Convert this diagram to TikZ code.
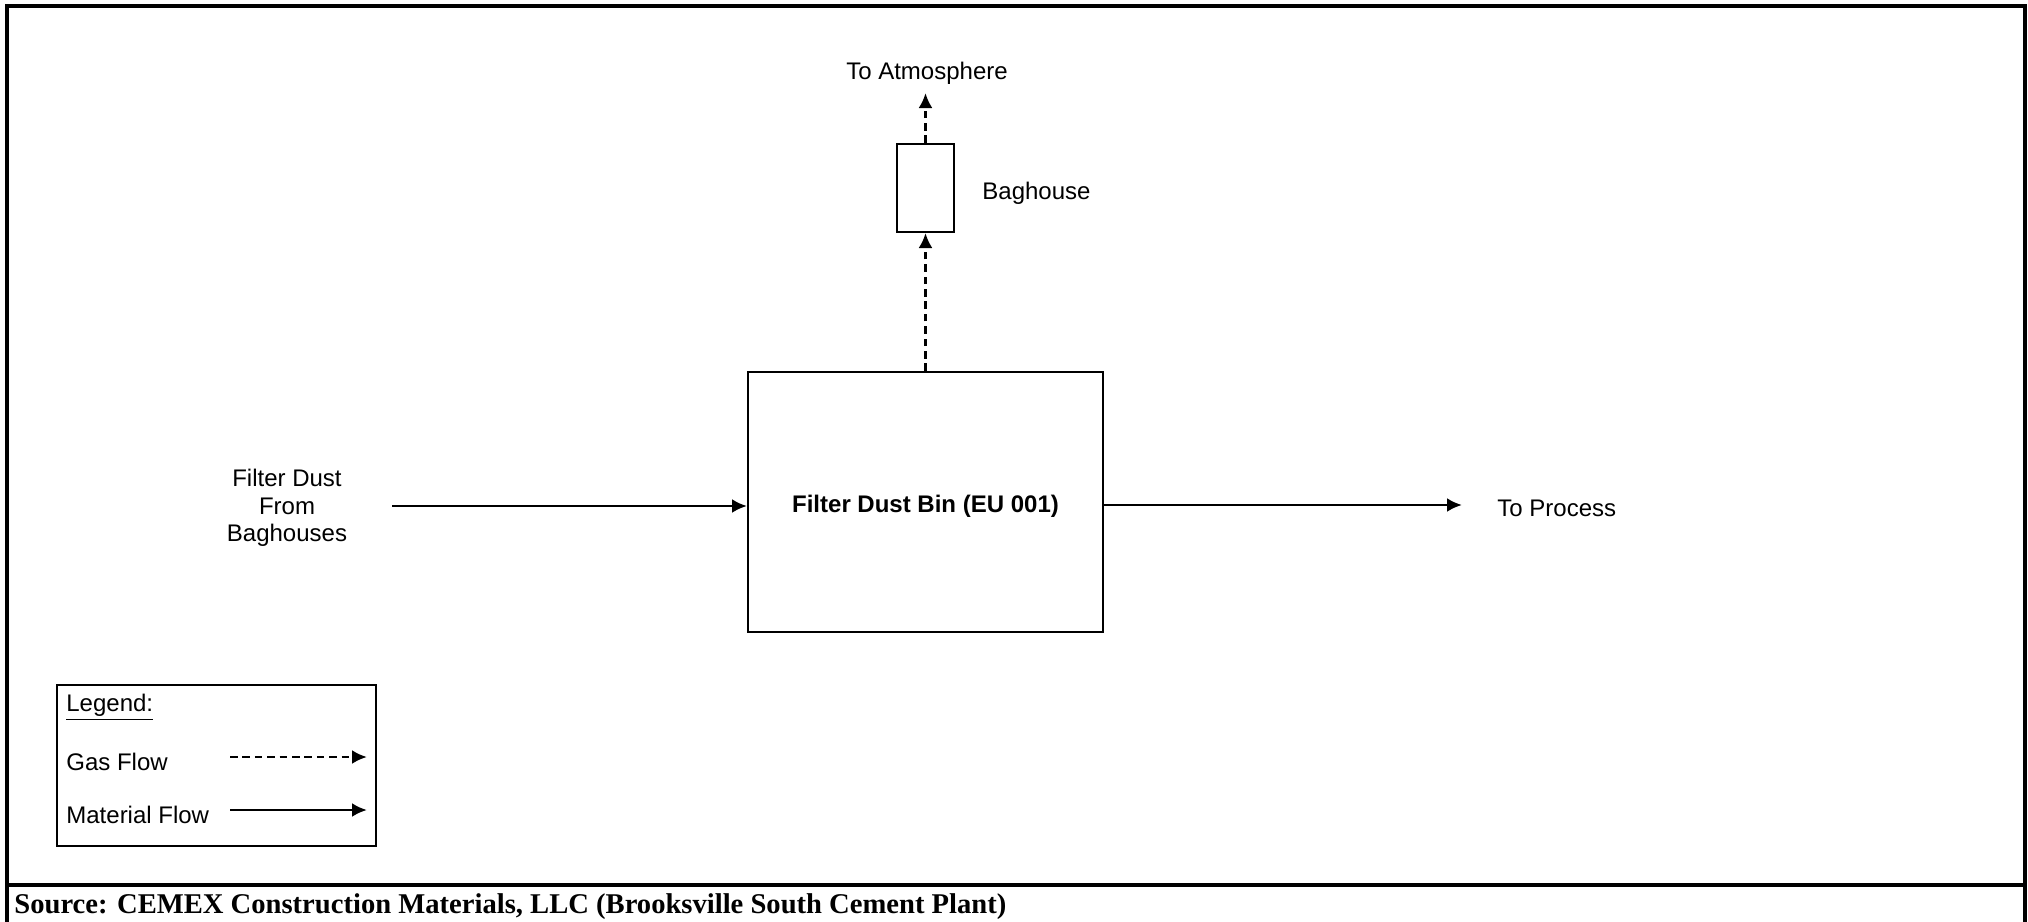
\documentclass[tikz,border=0pt]{standalone}
\usepackage{fontspec}
\setmainfont{Liberation Sans}
\newfontfamily\srcfont{Liberation Serif}
\usetikzlibrary{arrows.meta}
\begin{document}
\begin{tikzpicture}[x=0.5pt,y=-0.5pt,
  lbl/.style={font=\fontsize{12}{14}\selectfont, inner sep=0pt},
  unit/.style={draw, line width=1pt, fill=white},
  tip/.style={-{Latex[length=7.5pt,width=7pt]}},
  gas/.style={tip, line width=1.4pt, dash pattern=on 3.8pt off 2.4pt},
  mat/.style={tip, line width=1.4pt}]
\useasboundingbox (0,0) rectangle (2028,921);
\fill[white] (0,0) rectangle (2028,921);
\begin{scope}
\clip (0,0) rectangle (2028,921);
% outer frame and source strip
\draw[line width=2.2pt] (7,930) -- (7,6) -- (2025,6) -- (2025,930);
\draw[line width=2pt] (7,885) -- (2025,885);
\end{scope}
\node[anchor=base west, inner sep=0pt, font=\srcfont\bfseries\fontsize{14.3}{16}\selectfont] (src) at (14,913)
  {Source: CEMEX Construction Materials, LLC (Brooksville South Cement Plant)};

% process units
\node[unit, minimum width=177.5pt, minimum height=130pt] (bin) at (925.5,502) {};
\node[lbl, font=\bfseries\fontsize{12}{14}\selectfont] (binlbl) at (925.5,506) {Filter Dust Bin (EU 001)};
\node[unit, minimum width=28.5pt, minimum height=44pt] (bh) at (925.5,188) {};
\node[lbl, anchor=west] (bhlbl) at (982,193) {Baghouse};
\node[lbl] (atm) at (927,73) {To Atmosphere};
\coordinate (atmtip) at (925.5,93);

\node[lbl, align=center, font=\fontsize{12}{13.75}\selectfont] (filter) at (287,508) {Filter Dust\\From\\Baghouses};
\coordinate (fin) at (392,506);
\node[lbl, anchor=west] (proc) at (1497,508) {To Process};
\coordinate (pin) at (1103,505);
\coordinate (pout) at (1462,505);

% flows
\draw[gas] (bin.north) -- (bh.south);
\draw[gas] (bh.north) -- (atmtip);
\draw[mat] (fin) -- (fin -| bin.west);
\draw[mat] (pin) -- (pout);

% legend
\node[draw, line width=1pt, minimum width=159.5pt, minimum height=80.5pt] (legend) at (216.5,765.5) {};
\node[lbl, anchor=west] (leghead) at (66,707) {\underline{Legend:}};
\node[lbl, anchor=west] (leggas) at (66,762) {Gas Flow};
\node[lbl, anchor=west] (legmat) at (66,815) {Material Flow};
\coordinate (g0) at (230,757);
\coordinate (g1) at (367,757);
\coordinate (m0) at (230,810);
\coordinate (m1) at (367,810);
\draw[gas] (g0) -- (g1);
\draw[mat] (m0) -- (m1);
\end{tikzpicture}
\end{document}
